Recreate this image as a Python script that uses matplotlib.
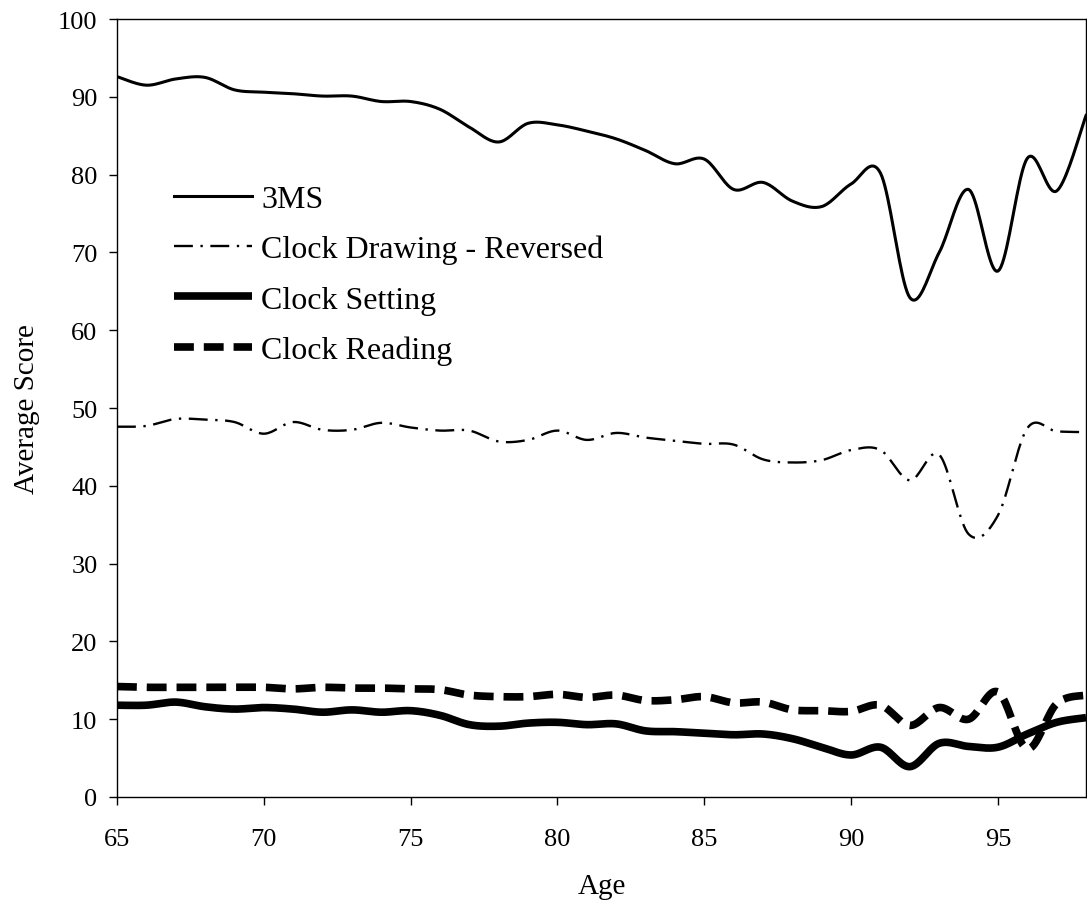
import numpy as np
import matplotlib
matplotlib.use('Agg')
import matplotlib.pyplot as plt

plt.rcParams['font.family'] = ['Liberation Serif', 'DejaVu Serif']

ages = list(range(65, 99))

mms3 = [92.6, 91.5, 92.3, 92.5, 90.9, 90.6, 90.4, 90.1, 90.1, 89.4,
        89.4, 88.4, 86.1, 84.2, 86.6, 86.4, 85.6, 84.6, 83.1, 81.4,
        82.0, 78.1, 79.0, 76.6, 75.9, 78.8, 80.2, 64.2, 70.0, 78.1,
        67.6, 82.1, 77.9, 87.6]

clock_drawing = [47.6, 47.7, 48.6, 48.5, 48.2, 46.7, 48.2, 47.2, 47.2, 48.1,
                 47.5, 47.1, 47.1, 45.7, 45.9, 47.1, 45.9, 46.8, 46.2, 45.8,
                 45.4, 45.3, 43.4, 43.0, 43.3, 44.6, 44.6, 40.7, 44.0, 33.8,
                 36.2, 47.4, 47.0, 46.9]

clock_setting = [11.8, 11.8, 12.2, 11.6, 11.3, 11.5, 11.3, 10.9, 11.2, 10.9,
                 11.1, 10.5, 9.3, 9.1, 9.5, 9.6, 9.3, 9.4, 8.5, 8.4,
                 8.2, 8.0, 8.1, 7.5, 6.4, 5.4, 6.4, 3.9, 6.9, 6.5,
                 6.4, 8.1, 9.6, 10.2]

clock_reading = [14.2, 14.1, 14.1, 14.1, 14.1, 14.1, 13.9, 14.1, 14.0, 14.0,
                 13.9, 13.8, 13.1, 12.9, 12.9, 13.2, 12.8, 13.1, 12.4, 12.5,
                 12.9, 12.1, 12.2, 11.2, 11.1, 11.0, 11.8, 9.2, 11.5, 10.0,
                 13.5, 6.2, 12.0, 13.1]


def smooth(x, y, n=20):
    # Catmull-Rom style smoothing like spreadsheet "smoothed line"
    x = np.asarray(x, float)
    y = np.asarray(y, float)
    px = np.concatenate([[x[0]], x, [x[-1]]])
    py = np.concatenate([[y[0]], y, [y[-1]]])
    xs, ys = [], []
    t = np.linspace(0, 1, n, endpoint=False)
    for i in range(1, len(px) - 2):
        for arr, out in ((px, xs), (py, ys)):
            p0, p1, p2, p3 = arr[i - 1], arr[i], arr[i + 1], arr[i + 2]
            c1 = p1 + (p2 - p0) / 6
            c2 = p2 - (p3 - p1) / 6
            out.extend((1 - t) ** 3 * p1 + 3 * (1 - t) ** 2 * t * c1
                       + 3 * (1 - t) * t ** 2 * c2 + t ** 3 * p2)
    xs.append(x[-1])
    ys.append(y[-1])
    return np.array(xs), np.array(ys)


fig = plt.figure(figsize=(10.87, 9.12), dpi=100)
ax = fig.add_axes([0.1076, 0.125, 0.8915, 0.853])

x, y = smooth(ages, mms3)
ax.plot(x, y, color='black', lw=2.2, label='3MS')
x, y = smooth(ages, clock_drawing)
ax.plot(x, y, color='black', lw=1.7, dashes=(8, 3.2, 1, 3.2), label='Clock Drawing - Reversed')
x, y = smooth(ages, clock_setting)
ax.plot(x, y, color='black', lw=5.5, solid_capstyle='butt', label='Clock Setting')
x, y = smooth(ages, clock_reading)
ax.plot(x, y, color='black', lw=5.5, dashes=(2.6, 1.3), dash_capstyle='butt', label='Clock Reading')

ax.set_xlim(65, 98)
ax.set_ylim(0, 100)
ax.set_xticks(range(65, 99, 5))
ax.set_yticks(range(0, 101, 10))
ax.tick_params(direction='out', length=6, width=1, labelsize=19)
ax.tick_params(axis='x', pad=16)
ax.tick_params(axis='y', pad=8)
for s in ax.spines.values():
    s.set_linewidth(1)
ax.set_xlabel('Age', fontsize=21, labelpad=17)
ax.set_ylabel('Average Score', fontsize=21, labelpad=13)

ax.legend(loc='upper left', bbox_to_anchor=(0.059, 0.787), frameon=False,
          fontsize=23, handlelength=2.45, handletextpad=0.28,
          labelspacing=0.65, borderpad=0, borderaxespad=0)

fig.savefig('out.png', dpi=100)
